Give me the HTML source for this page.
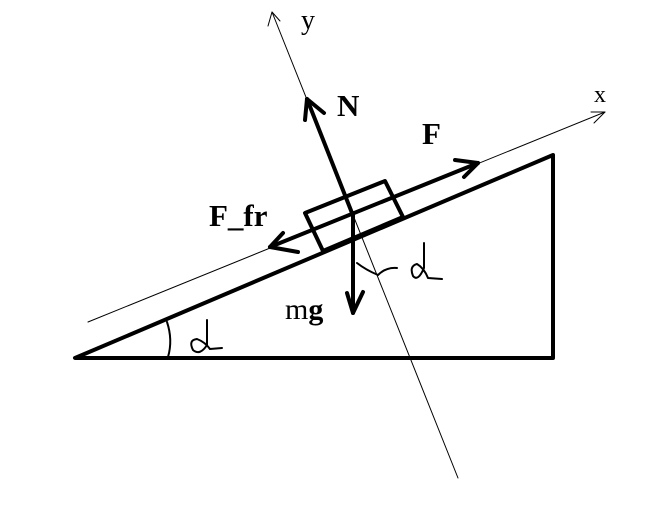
<!DOCTYPE html>
<html><head><style>
html,body{margin:0;padding:0;background:#fff;}
svg{display:block;}
text{font-family:"Liberation Serif",serif;}
</style></head><body>
<svg width="663" height="514" viewBox="0 0 663 514" xmlns="http://www.w3.org/2000/svg">
<g stroke="#000" fill="none" stroke-linecap="round" stroke-linejoin="round">
<line x1="458" y1="478" x2="272" y2="12" stroke-width="1"/>
<path d="M268 26 L272 12 L280 21" stroke-width="1"/>
<line x1="88" y1="322" x2="605" y2="112" stroke-width="1"/>
<path d="M591 112 L605 112 L594 123" stroke-width="1"/>
<path d="M75 358 L553 358 L553 155 Z" stroke-width="4"/>
<path d="M305 213 L385 181 L403 217 L323 251 Z" stroke-width="4"/>
<line x1="270" y1="247" x2="478" y2="163" stroke-width="4"/>
<path d="M455 160 L478 163 L464 177" stroke-width="4"/>
<path d="M283 233 L270 247 L298 252" stroke-width="4"/>
<line x1="352" y1="213" x2="307" y2="99" stroke-width="4"/>
<path d="M305 120 L307 99 L324 113" stroke-width="4"/>
<line x1="353" y1="213" x2="353" y2="313" stroke-width="4"/>
<path d="M347 293 L353 313 L363 292" stroke-width="4"/>
<path d="M357 263 Q366 270 378 275 Q386 267 397 268" stroke-width="2"/>
<path d="M167 322 Q173 340 168 357" stroke-width="2"/>
<path d="M207 320 Q207 335 207 345 Q200 356 193 350 Q188 340 197 339 Q205 342 210 349 L222 348" stroke-width="2"/>
<path d="M424 243 Q424 258 424 268 Q418 282 413 276 Q409 266 417 264 Q424 268 428 278 L442 279" stroke-width="2"/>
</g>
<text x="337" y="116" font-size="31" font-weight="bold">N</text>
<text x="422" y="144" font-size="31" font-weight="bold">F</text>
<text x="209" y="226" font-size="31" font-weight="bold">F_fr</text>
<text x="285" y="319" font-size="30">m<tspan font-weight="bold">g</tspan></text>
<text x="594" y="102" font-size="24">x</text>
<text x="301" y="29" font-size="28">y</text>
</svg>
</body></html>
